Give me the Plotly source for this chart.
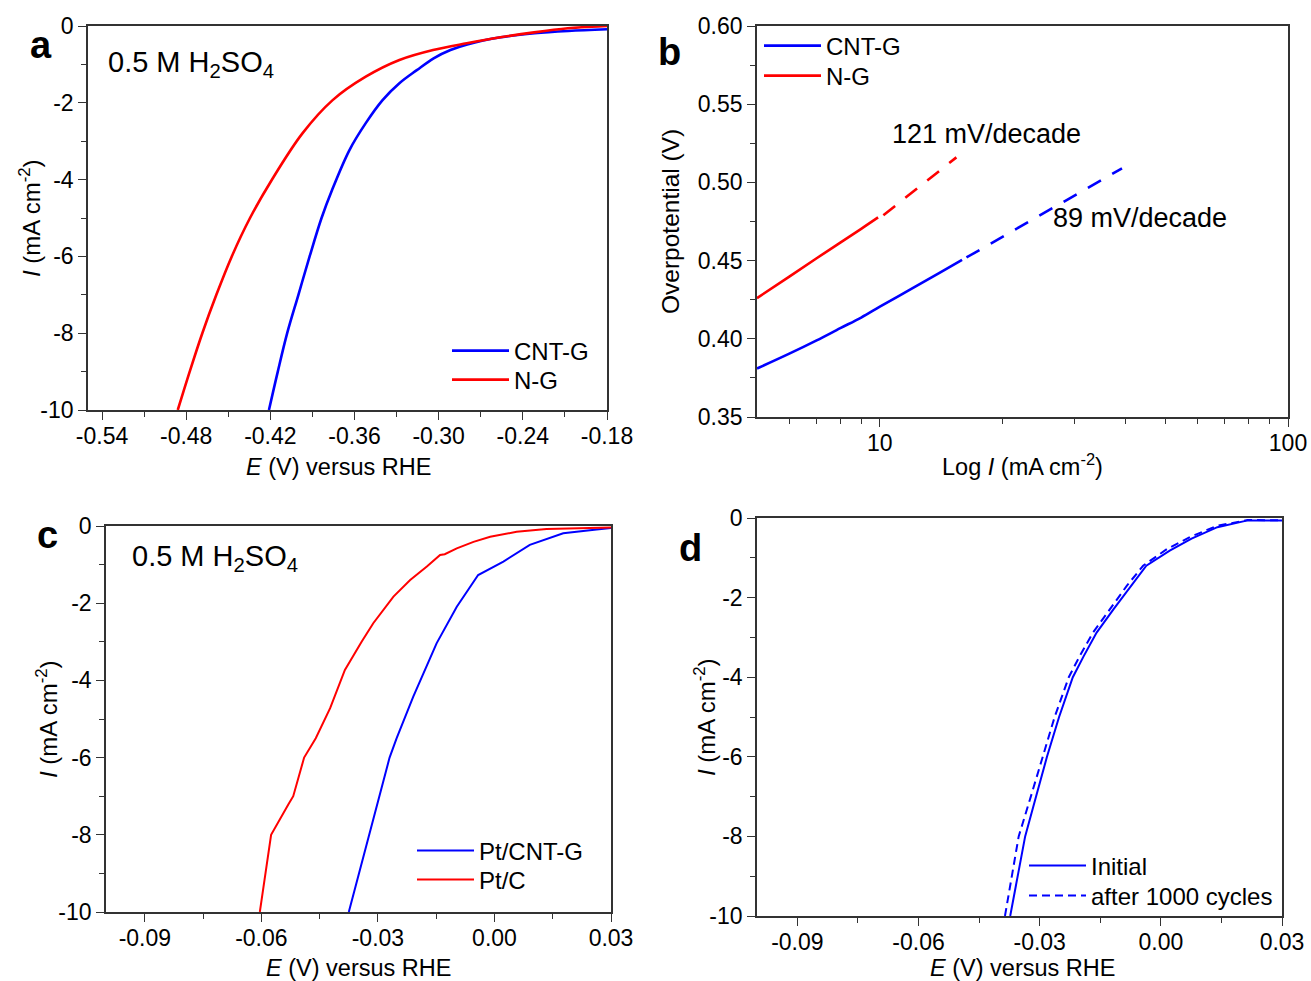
import plotly.graph_objects as go
import math

W, H = 1311, 981
FONT = "Liberation Sans, Arial, sans-serif"

# ---------------- Panel a: LSV curves ----------------
a_cntg_E = [-0.421, -0.4147, -0.408, -0.400, -0.392, -0.3835, -0.376, -0.3636, -0.352, -0.340,
            -0.328, -0.3156, -0.3036, -0.2916, -0.2796, -0.2556, -0.2316, -0.2076, -0.180]
a_cntg_I = [-10.0, -9.0, -8.0, -7.0, -6.0, -5.0, -4.27, -3.23, -2.53, -1.93,
            -1.49, -1.15, -0.84, -0.625, -0.48, -0.295, -0.19, -0.13, -0.086]
a_ng_E = [-0.486, -0.4775, -0.4685, -0.4585, -0.4475, -0.4345, -0.419, -0.397, -0.3756, -0.352,
          -0.328, -0.304, -0.280, -0.256, -0.232, -0.208, -0.191, -0.180]
a_ng_I = [-10.0, -9.0, -8.0, -7.0, -6.0, -5.0, -4.01, -2.79, -1.93, -1.32,
          -0.885, -0.625, -0.45, -0.295, -0.165, -0.06, -0.02, 0.0]

# ---------------- Panel b: Tafel plots ----------------
b_cntg_j = [5.0, 6.0, 7.0, 8.0, 9.0, 10.0, 12.0, 14.0, 15.9]
b_cntg_eta = [0.381, 0.3905, 0.3990, 0.4068, 0.4136, 0.4205, 0.4322, 0.4422, 0.4505]
b_cntg_fit_j = [16.3, 39.2]
b_cntg_fit_eta = [0.452, 0.509]
b_ng_j = [5.0, 6.0, 7.0, 8.0, 9.0, 9.9]
b_ng_eta = [0.426, 0.4398, 0.4515, 0.4615, 0.4703, 0.4776]
b_ng_fit_j = [10.2, 15.4]
b_ng_fit_eta = [0.479, 0.516]
b_labels = ["121 mV/decade", "89 mV/decade"]

# ---------------- Panel c: Pt catalysts ----------------
c_ptcntg_E = [-0.0375, -0.0349, -0.0322, -0.0296, -0.0270, -0.0252, -0.0209, -0.0149, -0.0097,
              -0.0042, 0.0023, 0.0091, 0.0177, 0.0263, 0.0300]
c_ptcntg_I = [-10.0, -9.0, -8.0, -7.0, -6.0, -5.5, -4.42, -3.04, -2.09,
              -1.27, -0.92, -0.49, -0.19, -0.09, -0.05]
c_ptc_E = [-0.0604, -0.0590, -0.0575, -0.0530, -0.0518, -0.0490, -0.0460, -0.0423, -0.0385,
           -0.0342, -0.0312, -0.0260, -0.0217, -0.0174, -0.0140, -0.0128, -0.0097, -0.0054,
           -0.0011, 0.0057, 0.0134, 0.0300]
c_ptc_I = [-10.0, -9.0, -8.0, -7.2, -7.0, -6.0, -5.5, -4.72, -3.73,
           -3.0, -2.52, -1.83, -1.40, -1.05, -0.75, -0.73, -0.58, -0.41,
           -0.28, -0.15, -0.08, -0.04]

# ---------------- Panel d: stability ----------------
d_init_E = [-0.0373, -0.0355, -0.0336, -0.0309, -0.0282, -0.0252, -0.0218, -0.0191,
            -0.0159, -0.0117, -0.0074, -0.0036, 0.0022, 0.0076, 0.0140, 0.0215, 0.0300]
d_init_I = [-10.0, -9.0, -8.0, -7.0, -6.0, -5.0, -4.0, -3.47,
            -2.88, -2.29, -1.70, -1.20, -0.82, -0.52, -0.23, -0.06, -0.06]
d_after_E = [-0.0386, -0.0369, -0.0352, -0.0322, -0.0293, -0.0263, -0.0228, -0.0201,
             -0.0168, -0.0127, -0.0084, -0.0044, 0.0015, 0.0072, 0.0138, 0.0215, 0.0300]
d_after_I = [-10.0, -9.0, -8.0, -7.0, -6.0, -5.0, -4.0, -3.47,
             -2.88, -2.29, -1.70, -1.20, -0.78, -0.48, -0.20, -0.05, -0.06]

# tick labels
a_xticks = [-0.54, -0.48, -0.42, -0.36, -0.30, -0.24, -0.18]
a_xtext = ["-0.54", "-0.48", "-0.42", "-0.36", "-0.30", "-0.24", "-0.18"]
j_yticks = [0, -2, -4, -6, -8, -10]
j_ytext = ["0", "-2", "-4", "-6", "-8", "-10"]
b_xticks = [10, 100]
b_xtext = ["10", "100"]
b_xminor = [6, 7, 8, 9, 20, 30, 40, 50, 60, 70, 80, 90]
b_yticks = [0.35, 0.40, 0.45, 0.50, 0.55, 0.60]
b_ytext = ["0.35", "0.40", "0.45", "0.50", "0.55", "0.60"]
cd_xticks = [-0.09, -0.06, -0.03, 0.00, 0.03]
cd_xtext = ["-0.09", "-0.06", "-0.03", "0.00", "0.03"]

BLUE = "#0000FF"
RED = "#FF0000"


def px(x):
    return x / W


def py(y):
    return 1 - y / H


fig = go.Figure()
SPL = dict(shape="spline", smoothing=1.0)

# panel a
fig.add_trace(go.Scatter(x=a_cntg_E, y=a_cntg_I, mode="lines", name="CNT-G", line=dict(color=BLUE, width=2.6, **SPL), xaxis="x", yaxis="y", legend="legend"))
fig.add_trace(go.Scatter(x=a_ng_E, y=a_ng_I, mode="lines", name="N-G", line=dict(color=RED, width=2.6, **SPL), xaxis="x", yaxis="y", legend="legend2"))

# panel b
fig.add_trace(go.Scatter(x=b_cntg_j, y=b_cntg_eta, mode="lines", name="CNT-G", line=dict(color=BLUE, width=2.6, **SPL), xaxis="x2", yaxis="y2", legend="legend3"))
fig.add_trace(go.Scatter(x=b_ng_j, y=b_ng_eta, mode="lines", name="N-G", line=dict(color=RED, width=2.6, **SPL), xaxis="x2", yaxis="y2", legend="legend4"))
fig.add_trace(go.Scatter(x=b_cntg_fit_j, y=b_cntg_fit_eta, mode="lines", showlegend=False, line=dict(color=BLUE, width=2.6, dash="15px,13px"), xaxis="x2", yaxis="y2"))
fig.add_trace(go.Scatter(x=b_ng_fit_j, y=b_ng_fit_eta, mode="lines", showlegend=False, line=dict(color=RED, width=2.6, dash="15px,13px"), xaxis="x2", yaxis="y2"))

# panel c
fig.add_trace(go.Scatter(x=c_ptcntg_E, y=c_ptcntg_I, mode="lines", name="Pt/CNT-G", line=dict(color=BLUE, width=2), xaxis="x3", yaxis="y3", legend="legend5"))
fig.add_trace(go.Scatter(x=c_ptc_E, y=c_ptc_I, mode="lines", name="Pt/C", line=dict(color=RED, width=2), xaxis="x3", yaxis="y3", legend="legend6"))

# panel d
fig.add_trace(go.Scatter(x=d_init_E, y=d_init_I, mode="lines", name="Initial", line=dict(color=BLUE, width=2), xaxis="x4", yaxis="y4", legend="legend7"))
fig.add_trace(go.Scatter(x=d_after_E, y=d_after_I, mode="lines", name="after 1000 cycles", line=dict(color=BLUE, width=2, dash="8px,5px"), xaxis="x4", yaxis="y4", legend="legend8"))

tickfont = dict(family=FONT, size=23, color="black")
axcommon = dict(showgrid=False, zeroline=False, showline=True, linecolor="#333333", linewidth=1.6,
                mirror=True, ticks="outside", ticklen=8, tickwidth=1.4, tickcolor="#333333",
                tickfont=tickfont, automargin=False)
xextra = dict(ticklabelstandoff=-3)


def minor(**kw):
    d = dict(ticks="outside", ticklen=5, tickwidth=1.4, tickcolor="#333333", showgrid=False)
    d.update(kw)
    return d


layout = dict(
    width=W, height=H, margin=dict(l=0, r=0, t=0, b=0, autoexpand=False),
    paper_bgcolor="white", plot_bgcolor="white",
    font=dict(family=FONT, color="black"),
    xaxis=dict(domain=[px(88), px(607)], range=[-0.55, -0.18], anchor="y",
               tickmode="array", tickvals=a_xticks, ticktext=a_xtext,
               minor=minor(tickmode="linear", tick0=-0.54, dtick=0.03), **axcommon, **xextra),
    yaxis=dict(domain=[py(410), py(26)], range=[-10, 0], anchor="x",
               tickmode="array", tickvals=j_yticks, ticktext=j_ytext,
               minor=minor(tickmode="linear", tick0=0, dtick=1), **axcommon),
    xaxis2=dict(domain=[px(757), px(1288)], type="log", range=[math.log10(5), 2], anchor="y2",
                tickmode="array", tickvals=b_xticks, ticktext=b_xtext,
                minor=minor(tickmode="array", tickvals=b_xminor), **axcommon, **xextra),
    yaxis2=dict(domain=[py(417), py(26)], range=[0.35, 0.60], anchor="x2",
                tickmode="array", tickvals=b_yticks, ticktext=b_ytext,
                minor=minor(tickmode="linear", tick0=0.35, dtick=0.025), **axcommon),
    xaxis3=dict(domain=[px(106), px(611)], range=[-0.10, 0.03], anchor="y3",
                tickmode="array", tickvals=cd_xticks, ticktext=cd_xtext,
                minor=minor(tickmode="linear", tick0=-0.09, dtick=0.015), **axcommon, **xextra),
    yaxis3=dict(domain=[py(912), py(526)], range=[-10, 0], anchor="x3",
                tickmode="array", tickvals=j_yticks, ticktext=j_ytext,
                minor=minor(tickmode="linear", tick0=0, dtick=1), **axcommon),
    xaxis4=dict(domain=[px(757), px(1282)], range=[-0.10, 0.03], anchor="y4",
                tickmode="array", tickvals=cd_xticks, ticktext=cd_xtext,
                minor=minor(tickmode="linear", tick0=-0.09, dtick=0.015), **axcommon, **xextra),
    yaxis4=dict(domain=[py(916), py(518)], range=[-10, 0], anchor="x4",
                tickmode="array", tickvals=j_yticks, ticktext=j_ytext,
                minor=minor(tickmode="linear", tick0=0, dtick=1), **axcommon),
)

legfont = dict(family=FONT, size=24, color="black")
legcommon = dict(font=legfont, bgcolor="rgba(0,0,0,0)", borderwidth=0, xanchor="left", yanchor="middle",
                 tracegroupgap=0, itemwidth=57)
leg_pos = [(447, 351), (447, 380), (759, 46), (759, 76), (412, 851), (412, 880), (1024, 866), (1024, 896)]
for i, (lx, ly) in enumerate(leg_pos):
    key = "legend" if i == 0 else "legend%d" % (i + 1)
    layout[key] = dict(x=px(lx), y=py(ly), **legcommon)

fig.update_layout(**layout)

ann = []


def txt(x, y, text, size, **kw):
    d = dict(x=px(x), y=py(y), xref="paper", yref="paper", text=text, showarrow=False,
             xanchor="center", yanchor="middle",
             font=dict(family=FONT, size=size, color="black"))
    d.update(kw)
    ann.append(d)


ytitle = "<i>I</i> (mA cm<sup>-2</sup>)"
xtitle = "<i>E</i> (V) versus RHE"
txt(30, 218, ytitle, 24, textangle=-90)
txt(338, 467, xtitle, 23.5)
txt(670, 222, "Overpotential (V)", 24.5, textangle=-90)
txt(1022, 465, "Log <i>I</i> (mA cm<sup>-2</sup>)", 23.5)
txt(47, 719, ytitle, 24, textangle=-90)
txt(358, 968, xtitle, 23.5)
txt(705, 717, ytitle, 24, textangle=-90)
txt(1022, 968, xtitle, 23.5)

for (x, y, t) in [(41, 45, "a"), (669, 52, "b"), (47, 535, "c"), (690, 548, "d")]:
    txt(x, y, "<b>%s</b>" % t, 38)

txt(106, 64, "0.5 M H<sub>2</sub>SO<sub>4</sub>", 29, xanchor="left")
txt(130, 558, "0.5 M H<sub>2</sub>SO<sub>4</sub>", 29, xanchor="left")
txt(986, 134, b_labels[0], 27)
txt(1140, 218, b_labels[1], 27)

fig.update_layout(annotations=ann)
fig.write_html("out.html", config={"displayModeBar": False},
               post_script="document.body.style.margin='0px';")
